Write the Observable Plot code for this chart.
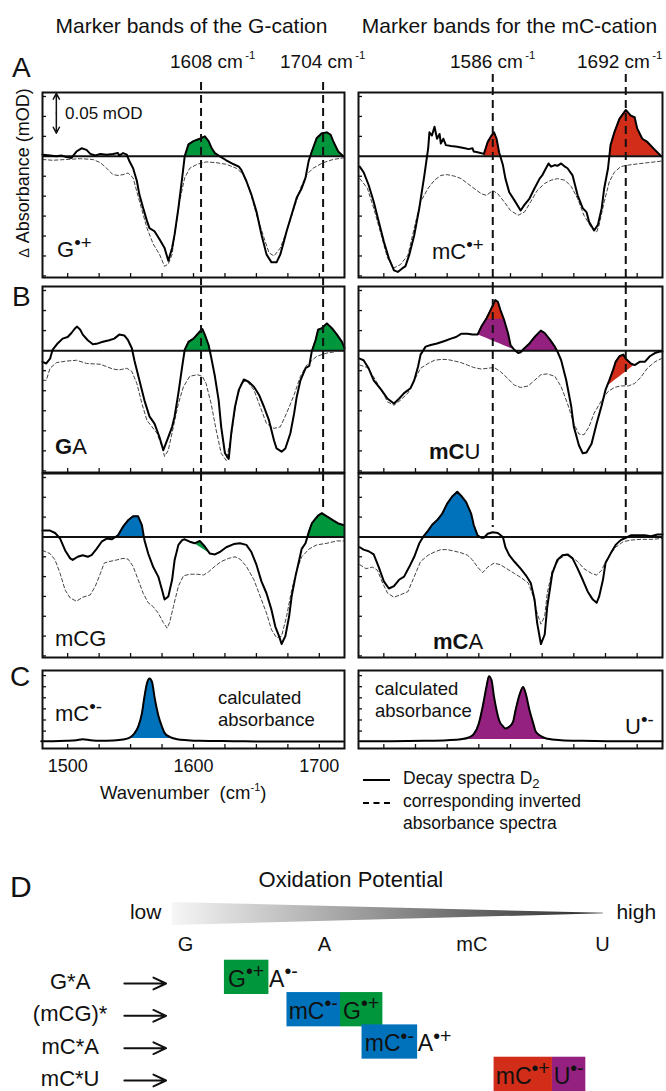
<!DOCTYPE html>
<html><head><meta charset="utf-8">
<script src="https://cdn.jsdelivr.net/npm/d3@7"></script>
<script src="https://cdn.jsdelivr.net/npm/@observablehq/plot@0.6"></script>
<style>
html,body{margin:0;padding:0;background:#fff;}
#fig{position:relative;width:666px;height:1091px;overflow:hidden;font-family:"Liberation Sans",Arial,sans-serif;color:#111;}
#fig svg{position:absolute;overflow:visible;background:none;}
.t{position:absolute;line-height:1;white-space:nowrap;}
.sup{position:relative;top:-0.45em;font-size:0.85em;}
.sup1{position:relative;top:-0.75em;font-size:0.6em;margin-left:0.2em;}
.sub{position:relative;top:0.3em;font-size:0.75em;}
.sw{position:absolute;width:27px;height:0;}
</style></head><body><div id="fig"></div>
<script>
// ---------- data ----------
const GREEN = "#00963c", BLUE = "#0072bc", RED = "#d22d19", PURPLE = "#942180";
const X_DOMAIN = [1480, 1720];
const xTicks = [1500, 1525, 1550, 1575, 1600, 1625, 1650, 1675, 1700];
const xTickLabels = [1500, 1600, 1700];
const diffTicks = [-150, -125, -100, -75, -50, -25, 25, 50, 75];   // µOD
const diffDomain = [-152, 80];
const calcTicks = [1, 2, 3, 4, 5, 6];
const calcDomain = [-0.57, 6.46];

const gMarkers = [1606, 1703];      // labelled 1608 / 1704 cm-1
const mcMarkers = [1586, 1691];     // labelled 1586 / 1692 cm-1
const scaleBar = {wn: 1491, top: 79, span: 50}; // 0.05 mOD

// Panel A, G radical cation (left)
const gCatSolid = [[1480,2],[1486,1],[1491,0],[1495,1],[1499,-1],[1503,-2],[1507,6],[1511,10],[1515,8],[1518,3],[1522,1],[1526,3],[1531,2],[1536,3],[1540,4],[1541,1],[1544,4],[1547,2],[1549,-6],[1552,-15],[1555,-31],[1557,-48],[1560,-65],[1563,-81],[1565,-90],[1569,-94],[1573,-104],[1577,-115],[1580,-131],[1583,-115],[1585,-98],[1588,-65],[1591,-27],[1593,0],[1596,15],[1600,19],[1605,22],[1609,25],[1612,19],[1614.5,10],[1617,4],[1621,0],[1626,-5],[1632,-10],[1636,-13],[1638,-17],[1642,-31],[1646,-48],[1650,-69],[1654,-98],[1658,-123],[1662,-133],[1666,-133],[1669,-123],[1672,-106],[1674,-94],[1678,-73],[1682,-52],[1686,-40],[1689,-27],[1691.5,-6],[1694,6],[1698,23],[1702,29],[1706,30],[1709,27],[1711,19],[1715,6],[1719,0]];
const gCatDashed = [[1480,-4],[1488,-5],[1499,-4],[1510,-3],[1520,-4],[1526,-8],[1531,-15],[1536,-23],[1540,-24],[1544,-23],[1548,-21],[1552,-27],[1557,-56],[1563,-90],[1568,-110],[1573,-123],[1577,-138],[1580,-135],[1583,-123],[1585,-98],[1589,-56],[1593,-27],[1597,-15],[1603,-10],[1610,-7],[1618,-8],[1626,-10],[1634,-15],[1640,-23],[1645,-44],[1650,-73],[1656,-102],[1660,-121],[1664,-125],[1669,-115],[1674,-94],[1680,-65],[1685,-40],[1690,-23],[1695,-15],[1703,-8],[1711,-4],[1719,-2]];
const gCatFills = [{from:1590,to:1625,color:GREEN},{from:1688,to:1720,color:GREEN}];

// Panel A, mC radical cation (right)
const mcCatSolid = [[1481,-13],[1484,-20],[1488,-36],[1492,-57],[1496,-82],[1500,-107],[1504,-128],[1508,-143],[1511,-145],[1515,-140],[1517,-138],[1520,-124],[1524,-99],[1528,-65],[1532,-24],[1535,10],[1536,30],[1538,26],[1540,37],[1542,22],[1544,28],[1545,16],[1547,22],[1549,14],[1553,13],[1558,12],[1564,10],[1567,9],[1570,10],[1571,6],[1574,5],[1579,3],[1582,18],[1585,26],[1587,30],[1589,22],[1591,5],[1594,-11],[1596,-28],[1599,-45],[1603,-55],[1608,-68],[1611,-61],[1615,-53],[1619,-40],[1623,-28],[1625,-24],[1628,-15],[1630,-9],[1632,-13],[1635,-11],[1637,-12],[1640,-9],[1643,-13],[1645,-15],[1649,-24],[1653,-49],[1657,-65],[1660,-70],[1662,-82],[1666,-93],[1669,-86],[1672,-65],[1674,-40],[1677,-15],[1679,14],[1682,30],[1686,47],[1691,58],[1695,51],[1698,49],[1700,35],[1704,22],[1708,18],[1714,8],[1719,0]];
const mcCatDashed = [[1481,-28],[1487,-40],[1492,-65],[1498,-99],[1503,-128],[1508,-140],[1513,-136],[1519,-124],[1524,-90],[1529,-57],[1535,-40],[1540,-30],[1545,-24],[1550,-23],[1556,-25],[1561,-28],[1566,-34],[1571,-40],[1577,-47],[1581,-49],[1586,-43],[1590,-47],[1595,-57],[1600,-68],[1606,-74],[1611,-70],[1616,-57],[1621,-43],[1627,-34],[1632,-30],[1637,-28],[1643,-30],[1648,-38],[1653,-53],[1658,-74],[1664,-90],[1668,-95],[1670,-86],[1674,-57],[1678,-32],[1682,-20],[1687,-13],[1693,-11],[1703,-9],[1714,-7],[1719,-6]];
const mcCatFills = [{from:1579,to:1593,color:RED},{from:1676,to:1720,color:RED}];

// Panel B, GA
const gaSolid = [[1480,-14],[1483,-16],[1486,-10],[1488,1],[1492,9],[1496,15],[1500,17],[1503,22],[1506,28],[1507.5,30],[1510,26],[1512,20],[1516,13],[1520,8],[1524,9],[1528,11],[1533,13],[1537,15],[1541,20],[1545,19],[1548,13],[1551,3],[1553,-12],[1557,-37],[1561,-62],[1565,-82],[1569,-91],[1573,-108],[1576,-124],[1579,-112],[1583,-95],[1585,-82],[1588,-53],[1591,-20],[1593,1],[1596,11],[1600,15],[1604,22],[1607,27],[1609,20],[1612,7],[1614,-8],[1617,-32],[1620,-62],[1622,-95],[1625,-128],[1628,-135],[1630,-103],[1633,-70],[1636,-49],[1640,-36],[1644,-39],[1648,-45],[1652,-55],[1656,-70],[1660,-87],[1664,-112],[1666,-122],[1670,-126],[1673,-122],[1677,-103],[1680,-78],[1682,-58],[1685,-37],[1689,-22],[1692,-19],[1694,-1],[1697,13],[1699,26],[1702,28],[1706,34],[1710,28],[1714,20],[1718,11],[1720,3]];
const gaDashed = [[1480,-37],[1483,-37],[1486,-22],[1491,-15],[1499,-13],[1507,-12],[1515,-16],[1526,-17],[1536,-23],[1541,-24],[1547,-22],[1551,-26],[1555,-41],[1559,-66],[1563,-87],[1567,-95],[1571,-103],[1575,-120],[1577,-132],[1580,-124],[1584,-95],[1588,-66],[1592,-45],[1597,-32],[1603,-30],[1607,-32],[1610,-41],[1614,-66],[1618,-99],[1622,-128],[1626,-137],[1630,-107],[1634,-62],[1638,-41],[1642,-37],[1648,-49],[1653,-70],[1658,-91],[1664,-97],[1669,-95],[1674,-78],[1680,-55],[1685,-32],[1690,-18],[1698,-7],[1706,-3],[1714,-1],[1719,-1]];
const gaFills = [{from:1590,to:1616,color:GREEN},{from:1692,to:1720,color:GREEN}];

// Panel B, mCU
const mcuSolid = [[1481,-10],[1484,-12],[1488,-22],[1492,-37],[1498,-49],[1503,-60],[1508,-66],[1512,-60],[1516,-53],[1521,-47],[1524,-37],[1527,-20],[1529,-5],[1533,5],[1537,7],[1542,9],[1548,12],[1553,15],[1557,17],[1561,21],[1566,21],[1570,20],[1574,20],[1577,30],[1581,40],[1585,53],[1588,63],[1590,61],[1592,51],[1595,38],[1598,22],[1600,7],[1603,1],[1606,-3],[1608,-2],[1611,3],[1615,9],[1619,17],[1624,25],[1627,22],[1631,14],[1635,5],[1637,-1],[1640,-12],[1644,-37],[1648,-70],[1650,-95],[1654,-118],[1657,-128],[1660,-127],[1664,-116],[1668,-91],[1672,-68],[1675,-49],[1678,-37],[1681,-24],[1683,-14],[1686,-7],[1689,-5],[1691,-10],[1695,-16],[1698,-18],[1702,-14],[1706,-14],[1710,-7],[1714,-3],[1718,-1],[1720,-1]];
const mcuDashed = [[1481,-18],[1487,-21],[1492,-33],[1498,-49],[1503,-64],[1508,-68],[1513,-62],[1519,-53],[1524,-37],[1529,-22],[1535,-16],[1540,-12],[1545,-11],[1550,-11],[1556,-13],[1561,-15],[1566,-18],[1571,-21],[1577,-23],[1582,-22],[1587,-21],[1592,-26],[1598,-35],[1603,-43],[1608,-46],[1614,-44],[1619,-37],[1624,-30],[1629,-29],[1635,-32],[1640,-45],[1645,-66],[1650,-91],[1654,-104],[1658,-105],[1662,-95],[1666,-78],[1672,-62],[1677,-51],[1682,-46],[1687,-44],[1693,-44],[1698,-41],[1703,-33],[1708,-22],[1714,-14],[1719,-10]];
const mcuFills = [{from:1574,to:1603,color:PURPLE,base:"chord"},{from:1574,to:1603,color:RED,base:"chord",floor:39},{from:1608,to:1638,color:PURPLE},{from:1676,to:1698,color:RED,base:"chord"}];

// Panel B, mCG
const mcgSolid = [[1480,8],[1486,8],[1490,5],[1494,-2],[1498,-17],[1502,-27],[1504,-29],[1508,-25],[1512,-23],[1516,-25],[1519,-23],[1523,-15],[1527,-6],[1531,-2],[1535,-3],[1537,-1],[1540,2],[1544,13],[1548,21],[1552,26],[1556,26],[1559,15],[1561,-4],[1564,-21],[1568,-38],[1572,-50],[1575,-67],[1577,-79],[1580,-75],[1583,-54],[1585,-29],[1588,-10],[1591,-4],[1593,-3],[1597,-6],[1601,-8],[1605,-5],[1609,-12],[1613,-21],[1617,-22],[1621,-19],[1626,-13],[1632,-9],[1637,-8],[1642,-10],[1646,-19],[1650,-35],[1654,-56],[1658,-71],[1662,-92],[1665,-113],[1668,-125],[1670,-135],[1673,-125],[1676,-100],[1678,-75],[1681,-50],[1684,-29],[1686,-15],[1689,-8],[1692,8],[1694,17],[1697,23],[1699,27],[1702,30],[1705,27],[1707,25],[1711,21],[1715,17],[1719,15]];
const mcgDashed = [[1480,-17],[1486,-21],[1490,-29],[1494,-46],[1498,-67],[1502,-77],[1507,-81],[1512,-76],[1518,-73],[1522,-62],[1526,-46],[1529,-33],[1533,-31],[1539,-29],[1544,-27],[1548,-28],[1552,-37],[1556,-54],[1560,-71],[1564,-83],[1568,-88],[1572,-96],[1576,-108],[1579,-115],[1581,-108],[1584,-88],[1588,-62],[1592,-49],[1597,-47],[1603,-47],[1608,-48],[1612,-44],[1617,-37],[1622,-31],[1628,-27],[1633,-25],[1637,-28],[1642,-37],[1648,-54],[1653,-75],[1658,-96],[1662,-117],[1666,-127],[1670,-125],[1674,-100],[1678,-67],[1682,-42],[1686,-25],[1692,-15],[1698,-10],[1706,-8],[1714,-5],[1719,-5]];
const mcgFills = [{from:1538,to:1562,color:BLUE},{from:1600,to:1613,color:GREEN,base:"chord"},{from:1689,to:1720,color:GREEN}];

// Panel B, mCA
const mcaSolid = [[1481,-13],[1484,-16],[1488,-18],[1492,-22],[1496,-38],[1500,-56],[1504,-65],[1508,-62],[1512,-54],[1516,-50],[1520,-38],[1524,-25],[1528,-8],[1531,0],[1535,8],[1538,15],[1542,21],[1546,29],[1550,42],[1554,51],[1558,57],[1561,52],[1565,44],[1569,29],[1571,15],[1574,2],[1577,-1],[1579,-1],[1582,4],[1586,6],[1590,5],[1594,0],[1596,-13],[1599,-23],[1603,-31],[1608,-40],[1612,-48],[1616,-58],[1619,-79],[1621,-108],[1624,-135],[1627,-123],[1629,-88],[1633,-46],[1637,-29],[1641,-23],[1645,-22],[1649,-27],[1653,-40],[1657,-54],[1661,-69],[1665,-79],[1668,-83],[1670,-75],[1673,-54],[1675,-33],[1679,-21],[1683,-10],[1687,-4],[1691,-1],[1695,2],[1700,2],[1706,2],[1711,1],[1716,3],[1720,3]];
const mcaDashed = [[1481,-35],[1486,-40],[1491,-38],[1495,-42],[1499,-58],[1503,-71],[1508,-76],[1513,-73],[1519,-69],[1524,-50],[1529,-31],[1535,-23],[1540,-19],[1545,-16],[1550,-16],[1556,-18],[1561,-20],[1566,-23],[1570,-29],[1574,-38],[1578,-45],[1582,-38],[1587,-33],[1592,-35],[1598,-41],[1603,-46],[1608,-51],[1614,-58],[1618,-75],[1621,-96],[1624,-110],[1627,-100],[1629,-71],[1633,-42],[1639,-27],[1644,-23],[1648,-25],[1653,-31],[1658,-40],[1664,-46],[1668,-48],[1672,-42],[1675,-31],[1679,-21],[1683,-13],[1689,-6],[1695,-4],[1703,-3],[1711,-3],[1720,-2]];
const mcaFills = [{from:1530,to:1576,color:BLUE}];

// Panel C, calculated absorbance
const mcAnionCalc = [[1479,0.09],[1488,0.09],[1499,0.12],[1507,0.18],[1512,0.27],[1518,0.18],[1526,0.12],[1536,0.15],[1544,0.24],[1549,0.39],[1553,0.78],[1556,1.38],[1559,2.58],[1561,4.08],[1563,5.29],[1565,5.74],[1567,5.44],[1569,4.08],[1572,2.43],[1575,1.38],[1577,0.84],[1581,0.48],[1587,0.27],[1595,0.18],[1605,0.12],[1632,0.09],[1658,0.06],[1719,0.06]];
const uAnionCalc = [[1481,0.09],[1506,0.09],[1532,0.12],[1550,0.18],[1561,0.27],[1567,0.42],[1571,0.72],[1575,1.68],[1578,3.18],[1581,4.98],[1583,5.95],[1585,5.59],[1587,4.08],[1589,2.88],[1591,1.98],[1594,1.44],[1596,1.23],[1599,1.38],[1602,1.83],[1604,2.88],[1607,4.23],[1610,4.98],[1612,4.38],[1615,2.88],[1618,1.68],[1620,0.93],[1624,0.54],[1629,0.3],[1640,0.18],[1656,0.12],[1677,0.09],[1720,0.09]];
const mcAnionFills = [{from:1547,to:1585,color:BLUE,base:"chord"}];
const uAnionFills = [{from:1557,to:1635,color:PURPLE,base:"chord"}];

// Panel D
const species = [{name:"G",u:0},{name:"A",u:1},{name:"mC",u:2.06},{name:"U",u:3}];
const processes = ["G*A","(mCG)*","mC*A","mC*U"];
const wedge = [{u:-0.094, top:-2.505, bottom:-1.794},{u:3.007, top:-2.17, bottom:-2.155}];
const dBoxes = [
  {row:0, x1:0.28, x2:0.60, color:GREEN, base:"G", sup:"•+"},
  {row:1, x1:0.73, x2:1.115, color:BLUE, base:"mC", sup:"•-"},
  {row:1, x1:1.115, x2:1.42, color:GREEN, base:"G", sup:"•+"},
  {row:2, x1:1.27, x2:1.67, color:BLUE, base:"mC", sup:"•-"},
  {row:3, x1:2.22, x2:2.64, color:RED, base:"mC", sup:"•+"},
  {row:3, x1:2.64, x2:2.88, color:PURPLE, base:"U", sup:"•-"}
];
const dFree = [{row:0, x:0.605, base:"A", sup:"•-"},{row:2, x:1.675, base:"A", sup:"•+"}];

// ---------- helpers ----------
const fig = document.getElementById("fig");
const FONT = "'Liberation Sans', Arial, sans-serif";
function label(html, x, baseline, size, o = {}) {
  const d = document.createElement("div");
  d.className = "t";
  d.innerHTML = html;
  d.style.fontSize = size + "px";
  d.style.top = (baseline - 0.8465 * size) + "px";
  d.style.left = x + "px";
  if (o.anchor === "middle") d.style.transform = "translateX(-50%)";
  if (o.weight) d.style.fontWeight = o.weight;
  fig.appendChild(d);
  return d;
}
const rich = (b, s) => `${b}<span class="sup">${s}</span>`;
function interp(c, w) {
  if (w <= c[0][0]) return c[0][1];
  for (let i = 1; i < c.length; i++) if (w <= c[i][0]) {
    const [a, va] = c[i - 1], [b, vb] = c[i];
    return va + (vb - va) * (w - a) / (b - a);
  }
  return c[c.length - 1][1];
}
function fillData(c, f) {
  const pts = [[f.from, interp(c, f.from)], ...c.filter(d => d[0] > f.from && d[0] < f.to), [f.to, interp(c, f.to)]];
  const v0 = pts[0][1], v1 = pts[pts.length - 1][1];
  const base = w => f.base === "chord" ? v0 + (v1 - v0) * (w - f.from) / (f.to - f.from) : 0;
  const lo = w => f.floor != null ? Math.max(base(w), f.floor) : base(w);
  const out = [];
  for (let i = 0; i < pts.length; i++) {
    if (i > 0) {
      const [wa, va] = pts[i - 1], [wb, vb] = pts[i];
      const da = va - lo(wa), db = vb - lo(wb);
      if (da * db < 0) { const t = da / (da - db); const w = wa + t * (wb - wa); out.push({w, lo: lo(w), hi: lo(w)}); }
    }
    const [w, v] = pts[i];
    out.push({w, lo: lo(w), hi: Math.max(lo(w), v)});
  }
  return out;
}
function panel(o) {
  const {left, top, width, innerH, solid, dashed, fills = [], yDomain, yTicks, curve = "linear", zero = true, mb = 0} = o;
  const marks = [];
  for (const f of fills) marks.push(Plot.areaY(fillData(solid, f), {x: "w", y1: "lo", y2: "hi", fill: f.color, curve}));
  if (zero) marks.push(Plot.ruleY([0], {strokeWidth: 2}));
  if (dashed) marks.push(Plot.line(dashed, {x: d => d[0], y: d => d[1], stroke: "#444", strokeWidth: 1, strokeDasharray: "3.5,2.5", curve}));
  marks.push(Plot.line(solid, {x: d => d[0], y: d => d[1], stroke: "#000", strokeWidth: 2, curve}));
  if (o.markers) {
    if (o.markerEnd != null) marks.push(Plot.ruleX(o.markers, {x: d => d, y1: yDomain[1], y2: d => interp(solid, d) + o.markerEnd, strokeWidth: 2, strokeDasharray: "8,5"}));
    else marks.push(Plot.ruleX(o.markers, {strokeWidth: 2, strokeDasharray: "8,5", insetTop: o.mTop || 0, insetBottom: o.mBottom || 0}));
  }
  marks.push(Plot.ruleX(xTicks, {insetTop: innerH - 4, strokeWidth: 1.3}));
  marks.push(Plot.ruleY(yTicks, {insetRight: width - 4, strokeWidth: 1.3}));
  marks.push(Plot.frame({strokeWidth: 2}));
  if (o.extra) marks.push(...o.extra);
  const svg = Plot.plot({
    width, height: innerH + mb, marginTop: 0, marginLeft: 0, marginRight: 0, marginBottom: mb,
    x: {domain: X_DOMAIN, ...(o.xAxis ? {} : {axis: null})},
    y: {domain: yDomain, axis: null},
    style: {fontFamily: FONT, fontSize: "18px", background: "none", overflow: "visible", color: "#111"},
    marks
  });
  svg.style.left = left + "px";
  svg.style.top = top + "px";
  fig.appendChild(svg);
  return svg;
}

// ---------- spectra panels ----------
panel({left: 42, top: 92, width: 302, innerH: 185, solid: gCatSolid, dashed: gCatDashed, fills: gCatFills,
  yDomain: diffDomain, yTicks: diffTicks, markers: gMarkers, mTop: -10, mBottom: -9,
  extra: [Plot.arrow([1, -1], {x1: scaleBar.wn, x2: scaleBar.wn, y1: scaleBar.top - scaleBar.span / 2, y2: d => scaleBar.top - scaleBar.span / 2 + d * scaleBar.span / 2, strokeWidth: 1.5, headLength: 7, headAngle: 55})]});
panel({left: 358, top: 92, width: 304, innerH: 185, solid: mcCatSolid, dashed: mcCatDashed, fills: mcCatFills,
  yDomain: diffDomain, yTicks: diffTicks, markers: mcMarkers, mTop: -18, mBottom: -9});
panel({left: 42, top: 286, width: 302, innerH: 186, solid: gaSolid, dashed: gaDashed, fills: gaFills,
  yDomain: diffDomain, yTicks: diffTicks, markers: gMarkers, mBottom: -1});
panel({left: 358, top: 286, width: 304, innerH: 186, solid: mcuSolid, dashed: mcuDashed, fills: mcuFills,
  yDomain: diffDomain, yTicks: diffTicks, markers: mcMarkers, mBottom: -1});
panel({left: 42, top: 473, width: 302, innerH: 184, solid: mcgSolid, dashed: mcgDashed, fills: mcgFills,
  yDomain: diffDomain, yTicks: diffTicks, markers: gMarkers, markerEnd: 6});
panel({left: 358, top: 473, width: 304, innerH: 184, solid: mcaSolid, dashed: mcaDashed, fills: mcaFills,
  yDomain: diffDomain, yTicks: diffTicks, markers: mcMarkers, markerEnd: 6});
panel({left: 42, top: 670, width: 302, innerH: 78, mb: 30, solid: mcAnionCalc, fills: mcAnionFills, zero: false,
  yDomain: calcDomain, yTicks: calcTicks, curve: "monotone-x", xAxis: true,
  extra: [Plot.axisX({ticks: xTickLabels, tickSize: 0, tickPadding: 11, tickFormat: d => String(d), fontSize: 18, label: null})]});
panel({left: 358, top: 670, width: 304, innerH: 78, solid: uAnionCalc, fills: uAnionFills, zero: false,
  yDomain: calcDomain, yTicks: calcTicks, curve: "monotone-x"});

// ---------- panel D ----------
const gradientDefs = () => {
  const defs = d3.create("svg:defs");
  const g = defs.append("linearGradient").attr("id", "oxgrad").attr("x1", "0").attr("x2", "1").attr("y1", "0").attr("y2", "0");
  g.append("stop").attr("offset", "0").attr("stop-color", "#f6f6f6");
  g.append("stop").attr("offset", "1").attr("stop-color", "#2a2a2a");
  return defs.node();
};
const dSvg = Plot.plot({
  width: 666, height: 251, margin: 0,
  x: {domain: [0, 3], range: [185, 602], axis: null},
  y: {domain: [0, 3], range: [143, 240], axis: null},
  color: {type: "identity"},
  style: {fontFamily: FONT, background: "none", overflow: "visible", color: "#111"},
  marks: [
    gradientDefs,
    Plot.areaY(wedge, {x: "u", y1: "top", y2: "bottom", fill: "url(#oxgrad)"}),
    Plot.text(["Oxidation Potential"], {x: 1.19, y: -3, lineAnchor: "bottom", fontSize: 22}),
    Plot.text(["low"], {x: -0.40, y: -2, textAnchor: "start", lineAnchor: "bottom", fontSize: 21}),
    Plot.text(["high"], {x: 3.10, y: -2, textAnchor: "start", lineAnchor: "bottom", fontSize: 21}),
    Plot.text(species, {x: "u", y: -1, text: "name", lineAnchor: "bottom", fontSize: 20}),
    Plot.text(processes, {x: -0.83, y: (d, i) => i + 0.17, text: d => d, lineAnchor: "bottom", fontSize: 22}),
    Plot.arrow(processes, {x1: -0.44, x2: -0.14, y1: (d, i) => i, y2: (d, i) => i, strokeWidth: 2, headLength: 11, headAngle: 50}),
    Plot.rect(dBoxes, {x1: "x1", x2: "x2", y1: d => d.row - 0.72, y2: d => d.row + 0.34, fill: "color"})
  ]
});
dSvg.style.left = "0px"; dSvg.style.top = "840px";
fig.appendChild(dSvg);
const dx = dSvg.scale("x"), dy = dSvg.scale("y");
for (const b of dBoxes) label(rich(b.base, b.sup), (dx.apply(b.x1) + dx.apply(b.x2)) / 2, 840 + dy.apply(b.row + 0.13), 23, {anchor: "middle"});
for (const f of dFree) label(rich(f.base, f.sup), dx.apply(f.x), 840 + dy.apply(f.row + 0.13), 23);

// ---------- texts ----------
label("Marker bands of the G-cation", 191.5, 33, 21, {anchor: "middle"});
label("Marker bands for the mC-cation", 509.5, 33, 21, {anchor: "middle"});
label('1608 cm<span class="sup1">-1</span>', 170, 68, 19);
label('1704 cm<span class="sup1">-1</span>', 280, 68, 19);
label('1586 cm<span class="sup1">-1</span>', 450, 68, 19);
label('1692 cm<span class="sup1">-1</span>', 577, 68, 19);
label("A", 12, 78, 28); label("B", 12, 307, 28); label("C", 10, 687, 28); label("D", 10, 897, 30);
const yl = label('<span style="font-size:0.8em">Δ</span> Absorbance (mOD)', 22.8 - 110, 173 + 0.8465 * 18 - 9, 18);
yl.style.width = "220px"; yl.style.textAlign = "center"; yl.style.transform = "rotate(-90deg)";
label("0.05 mOD", 65, 119, 17);
label(rich("G", "•+"), 57, 258, 22);
label(rich("mC", "•+"), 432, 260, 22);
label("<b>G</b>A", 55, 455, 22);
label("<b>mC</b>U", 429, 460, 22);
label("mCG", 55, 647, 22);
label("<b>mC</b>A", 433, 650, 22);
label(rich("mC", "•-"), 55, 722, 22);
label("calculated", 218, 705, 18.5); label("absorbance", 218, 727, 18.5);
label("calculated", 375, 696, 18.5); label("absorbance", 375, 718, 18.5);
label(rich("U", "•-"), 625, 735, 22);
label('Wavenumber&nbsp; (cm<span class="sup1" style="margin-left:0">-1</span>)', 100, 800, 18.5);
// legend
const s1 = document.createElement("div"); s1.className = "sw"; s1.style.left = "363px"; s1.style.top = "779px"; s1.style.borderTop = "2.5px solid #000"; fig.appendChild(s1);
const s2 = document.createElement("div"); s2.className = "sw"; s2.style.left = "363px"; s2.style.top = "802px"; s2.style.borderTop = "2.5px dashed #000"; fig.appendChild(s2);
label('Decay spectra D<span class="sub">2</span>', 403, 785, 17.5);
label("corresponding inverted", 403, 808, 17.5);
label("absorbance spectra", 403, 830, 17.5);
</script></body></html>
